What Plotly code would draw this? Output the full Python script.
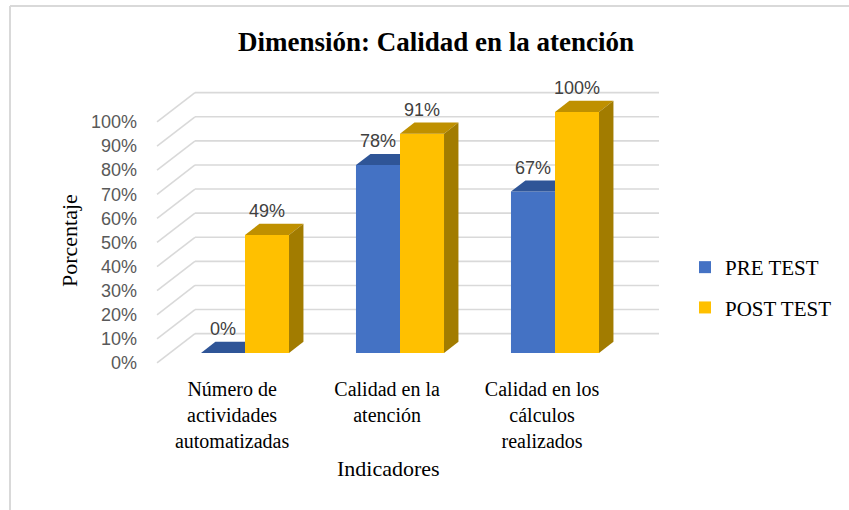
import plotly.graph_objects as go

# ---- data ----
categories = ["Número de<br>actividades<br>automatizadas",
              "Calidad en la<br>atención",
              "Calidad en los<br>cálculos<br>realizados"]
pre_test = [0.00, 0.78, 0.67]
post_test = [0.49, 0.91, 1.00]
tick_values = [0.0, 0.1, 0.2, 0.3, 0.4, 0.5, 0.6, 0.7, 0.8, 0.9, 1.0]
tick_labels = ["0%", "10%", "20%", "30%", "40%", "50%", "60%", "70%", "80%", "90%", "100%"]
series_names = ["PRE TEST", "POST TEST"]

# ---- page / plot-area geometry (pixels) ----
W, H = 849, 510
ML, MR, MT, MB = 140, 169, 64, 143
PLOT_W = W - ML - MR
PLOT_H = H - MT - MB
BASE_PX, UNIT_PX = 353.0, 241.0      # bar baseline and height of 100 %
CAT0_PX, CAT_STEP_PX = 245.0, 155.0  # first category split and spacing

X_RANGE = [(ML - CAT0_PX) / CAT_STEP_PX, (W - MR - CAT0_PX) / CAT_STEP_PX]
Y_RANGE = [(BASE_PX - (H - MB)) / UNIT_PX, (BASE_PX - MT) / UNIT_PX]


def paper_x(px):
    return (px - ML) / PLOT_W


def paper_y(py):
    return (H - MB - py) / PLOT_H


# ---- pseudo-3D depth (data units) ----
WALL_DX, WALL_DY = 0.245, 0.1216   # front edge -> back wall
BAR_FRONT = 0.34                   # depth of the bar fronts (the data plane)
BAR_DEPTH = 0.38                   # depth of each bar
BAR_W = 0.284
WALL_LEFT, WALL_RIGHT = -0.3226, 2.671
DX, DY = BAR_DEPTH * WALL_DX, BAR_DEPTH * WALL_DY
BACK_DY = (1 - BAR_FRONT) * WALL_DY
FRONT_DX, FRONT_DY = -BAR_FRONT * WALL_DX, -BAR_FRONT * WALL_DY

BLUE, BLUE_TOP = "#4472C4", "#2F5597"
GOLD, GOLD_TOP, GOLD_SIDE = "#FFC000", "#BF9000", "#A27C00"
GRID = "#D9D9D9"
SERIF = "Liberation Serif"
SANS = "Liberation Sans"

xs = list(range(len(categories)))

fig = go.Figure()

# front faces
fig.add_trace(go.Bar(x=[i - BAR_W / 2 for i in xs], y=pre_test, width=BAR_W,
                     name=series_names[0], marker=dict(color=BLUE, line_width=0),
                     legendgroup="pre", hoverinfo="skip"))
fig.add_trace(go.Bar(x=[i + BAR_W / 2 for i in xs], y=post_test, width=BAR_W,
                     name=series_names[1], marker=dict(color=GOLD, line_width=0),
                     legendgroup="post", hoverinfo="skip"))


def face(px, py, color, group):
    fig.add_trace(go.Scatter(x=px + [px[0]], y=py + [py[0]], mode="lines",
                             fill="toself", fillcolor=color, line=dict(width=0),
                             showlegend=False, legendgroup=group, hoverinfo="skip"))


for i, b, p in zip(xs, pre_test, post_test):
    # top of the PRE bar, cut where the POST bar's front begins
    face([i - BAR_W, i, i, i - BAR_W + DX], [b, b, b + DY, b + DY], BLUE_TOP, "pre")
    # top and side of the POST bar
    face([i, i + BAR_W, i + BAR_W + DX, i + DX], [p, p, p + DY, p + DY], GOLD_TOP, "post")
    face([i + BAR_W, i + BAR_W + DX, i + BAR_W + DX, i + BAR_W],
         [0, DY, p + DY, p], GOLD_SIDE, "post")

# back-wall gridlines with their diagonal floor/side strokes
shapes = []
for v in tick_values:
    yb = v + BACK_DY
    shapes.append(dict(type="line", xref="x", yref="y", layer="below",
                       x0=WALL_LEFT, x1=WALL_RIGHT, y0=yb, y1=yb,
                       line=dict(color=GRID, width=1.6)))
    shapes.append(dict(type="line", xref="x", yref="y", layer="below",
                       x0=WALL_LEFT - WALL_DX, y0=yb - WALL_DY, x1=WALL_LEFT, y1=yb,
                       line=dict(color=GRID, width=1.6)))

# chart-area frame (top and left edges)
shapes.append(dict(type="line", xref="paper", yref="paper",
                   x0=paper_x(10), x1=paper_x(W + 5), y0=paper_y(6), y1=paper_y(6),
                   line=dict(color="#D9D9D9", width=2)))
shapes.append(dict(type="line", xref="paper", yref="paper",
                   x0=paper_x(10), x1=paper_x(10), y0=paper_y(6), y1=paper_y(H + 5),
                   line=dict(color="#D9D9D9", width=2)))

annotations = []
for i, b, p in zip(xs, pre_test, post_test):
    annotations.append(dict(x=i - BAR_W / 2, y=b, xref="x", yref="y", yshift=24,
                            text=f"{round(b * 100)}%", showarrow=False,
                            xanchor="center", yanchor="middle",
                            font=dict(family=SANS, size=18, color="#404040")))
    annotations.append(dict(x=i + BAR_W / 2, y=p, xref="x", yref="y", yshift=24,
                            text=f"{round(p * 100)}%", showarrow=False,
                            xanchor="center", yanchor="middle",
                            font=dict(family=SANS, size=18, color="#404040")))

annotations.append(dict(x=paper_x(69), y=paper_y(241), xref="paper", yref="paper",
                        text="Porcentaje", textangle=-90, showarrow=False,
                        xanchor="center", yanchor="middle",
                        font=dict(family=SERIF, size=22, color="#000000")))
annotations.append(dict(x=paper_x(388), y=paper_y(468), xref="paper", yref="paper",
                        text="Indicadores", showarrow=False,
                        xanchor="center", yanchor="middle",
                        font=dict(family=SERIF, size=22, color="#000000")))

fig.update_layout(
    width=W, height=H,
    margin=dict(l=ML, r=MR, t=MT, b=MB, pad=0),
    paper_bgcolor="white", plot_bgcolor="white",
    barmode="overlay",
    title=dict(text="<b>Dimensión: Calidad en la atención</b>",
               xref="container", yref="container",
               x=436 / W, y=1 - 42 / H, xanchor="center", yanchor="middle",
               font=dict(family=SERIF, size=27, color="#000000")),
    xaxis=dict(range=X_RANGE, showgrid=False, zeroline=False, showline=False,
               tickmode="array", tickvals=[i + FRONT_DX for i in xs], ticktext=categories,
               ticks="", ticklabelstandoff=8,
               tickfont=dict(family=SERIF, size=20, color="#000000")),
    yaxis=dict(range=Y_RANGE, showgrid=False, zeroline=False, showline=False,
               tickmode="array", tickvals=[v + FRONT_DY for v in tick_values],
               ticktext=tick_labels, ticks="", ticklabelstandoff=2,
               tickfont=dict(family=SANS, size=18, color="#595959")),
    legend=dict(x=paper_x(685), y=paper_y(287.5), xanchor="left", yanchor="middle",
                tracegroupgap=10, bgcolor="rgba(0,0,0,0)",
                font=dict(family=SERIF, size=21, color="#000000")),
    shapes=shapes,
    annotations=annotations,
    showlegend=True,
)

fig.write_html("out.html")
